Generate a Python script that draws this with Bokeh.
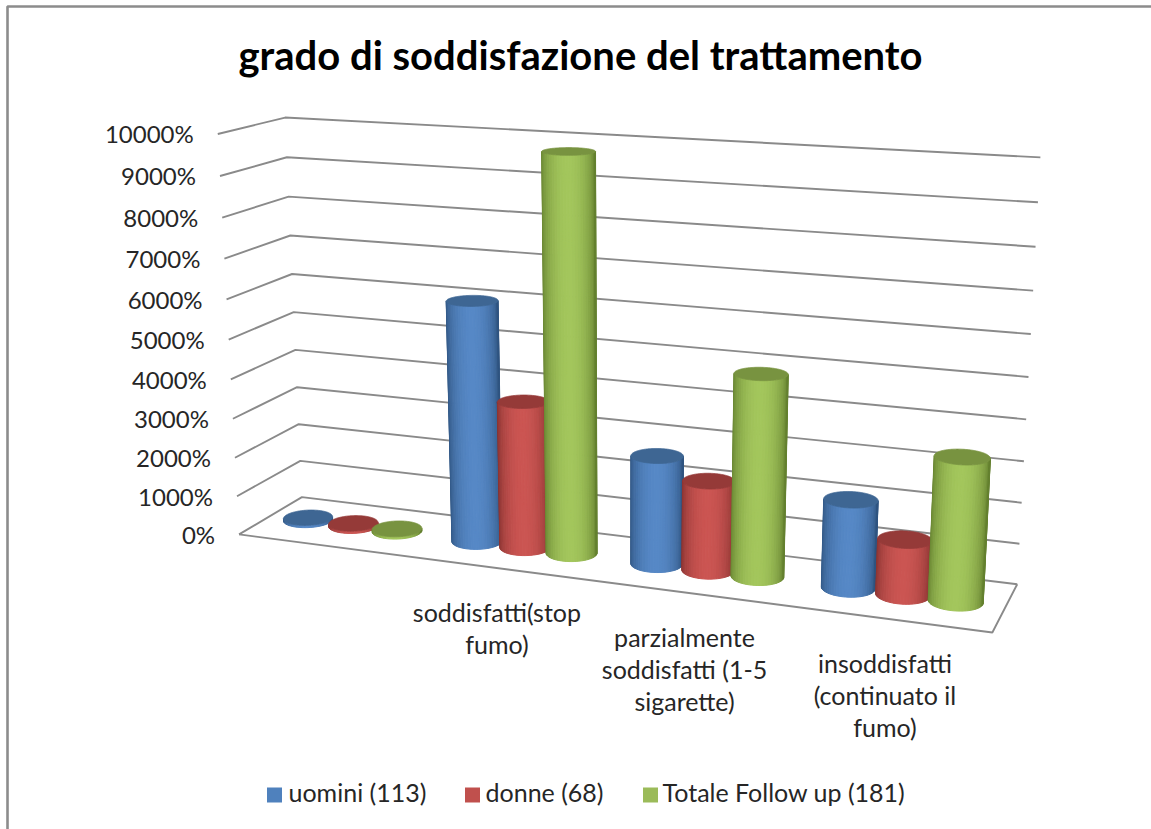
import numpy as np
from bokeh.core.properties import value
from bokeh.embed import file_html
from bokeh.models import Range1d
from bokeh.plotting import figure
from bokeh.resources import INLINE

# ---- chart data ----
title_text = "grado di soddisfazione del trattamento"
series_names = ["uomini (113)", "donne (68)", "Totale Follow up (181)"]
categories = ["", "soddisfatti(stop fumo)", "parzialmente soddisfatti (1-5 sigarette)",
              "insoddisfatti (continuato il fumo)"]
category_lines = [[], ["soddisfatti(stop", "fumo)"],
                  ["parzialmente", "soddisfatti (1-5", "sigarette)"],
                  ["insoddisfatti", "(continuato il", "fumo)"]]
uomini = [60, 6080, 2700, 2150]
donne = [60, 3700, 2220, 1340]
totale = [60, 9800, 4930, 3440]
series_values = [uomini, donne, totale]
tick_values = [0, 1000, 2000, 3000, 4000, 5000, 6000, 7000, 8000, 9000, 10000]
tick_labels = ["0%", "1000%", "2000%", "3000%", "4000%", "5000%", "6000%", "7000%",
               "8000%", "9000%", "10000%"]
axis_max = 10000

# ---- styles ----
body_mid = ["#5688c6", "#cb5552", "#a3c65c"]
body_edge = ["#2f5480", "#83302e", "#64802f"]
top_col = ["#3e6693", "#953a38", "#789340"]
swatch_col = ["#4f81bd", "#c0504d", "#9bbb59"]
grid_col = "#8a8a8a"
text_col = "#262626"
FONT = "Lato"

# ---- camera: (along, depth, height) -> page pixel, fitted from the picture's box corners
camera_3d = np.array([
    [0, 0, 0], [0, 1, 0], [1, 0, 0], [1, 1, 0], [0, 0, 1], [0, 1, 1], [1, 1, 1],
    [0, 1, .5], [1, 1, .5], [0, 0, .5], [.125, .5, 0], [.875, .5, 0]], float)
camera_px = np.array([
    [239, 533], [302, 496], [992, 631], [1016, 584], [217, 134], [285, 117], [1040, 157],
    [293, 311], [1028, 376], [228, 339], [352, 527], [903, 595]], float)


def fit_camera(a, b):
    rows = []
    for (u, d, v), (x, y) in zip(a, b / 1000.0):
        rows.append([u, d, v, 1, 0, 0, 0, 0, -x * u, -x * d, -x * v, -x])
        rows.append([0, 0, 0, 0, u, d, v, 1, -y * u, -y * d, -y * v, -y])
    m = np.linalg.svd(np.array(rows))[2][-1].reshape(3, 4)
    return m


CAM = fit_camera(camera_3d, camera_px)


def project(u, d, v):
    u, d, v = np.broadcast_arrays(np.asarray(u, float), np.asarray(d, float), np.asarray(v, float))
    q = np.stack([u, d, v, np.ones_like(u)], axis=0)
    r = CAM @ q.reshape(4, -1)
    return (r[0] / r[2] * 1000).reshape(u.shape), (r[1] / r[2] * 1000).reshape(u.shape)


W, H = 1151, 829
p = figure(width=W, height=H, output_backend="svg", toolbar_location=None,
           x_range=Range1d(0, W), y_range=Range1d(H, 0), min_border=0,
           background_fill_color="white", border_fill_color="white", margin=(0, 0, 0, 0))
p.axis.visible = False
p.grid.visible = False
p.outline_line_color = None

# frame of the original picture
p.line([1151, 7, 7], [6, 6, 829], line_color="#8c8c8c", line_width=2.6)

# walls
for t in tick_values:
    f = t / axis_max
    xs, ys = project([0, 0, 1], [0, 1, 1], [f, f, f])
    p.line(xs, ys, line_color=grid_col, line_width=1.9)
xs, ys = project([0, 1, 1], [0, 0, 1], [0, 0, 0])
p.line(xs, ys, line_color=grid_col, line_width=1.9)

# tick labels
xs, ys = project(np.zeros(len(tick_values)), np.zeros(len(tick_values)), np.array(tick_values) / axis_max)
p.text(xs - 24, ys, text=tick_labels, text_font=value(FONT), text_font_size="24px",
       text_color=text_col, text_align="right", text_baseline="middle")

# cylinders
N_CAT = len(categories)
N_SER = len(series_names)
SER_OFFSET = [-0.0685, 0.0, 0.065]
R_U = 0.033
R_D = 0.19


def mix(c1, c2, f):
    a = np.array([int(c1[i:i + 2], 16) for i in (1, 3, 5)], float)
    b = np.array([int(c2[i:i + 2], 16) for i in (1, 3, 5)], float)
    c = a + (b - a) * f
    return "#%02x%02x%02x" % tuple(int(round(x)) for x in c)


for s in range(N_SER):
    for c in range(N_CAT):
        uc = (c + 0.5) / N_CAT + SER_OFFSET[s]
        top = series_values[s][c] / axis_max
        th = np.linspace(0, 2 * np.pi, 241)[:-1]
        bx, by = project(uc + R_U * np.cos(th), 0.5 + R_D * np.sin(th), 0 * th)
        il, ir = int(np.argmin(bx)), int(np.argmax(bx))
        tl, tr = th[il], th[ir]
        if tr < tl:
            tr += 2 * np.pi
        arc = np.linspace(tl, tr, 29)
        if np.sin(arc[len(arc) // 2]) > 0:
            arc = np.linspace(tl, tr - 2 * np.pi, 29)
        xs_, ys_, cols = [], [], []
        ax0, _ = project(uc + R_U * np.cos(arc), 0.5 + R_D * np.sin(arc), 0 * arc)
        for k in range(len(arc) - 1):
            a0, a1 = arc[k], arc[k + 1]
            uu = uc + R_U * np.cos([a0, a1, a1, a0])
            dd = 0.5 + R_D * np.sin([a0, a1, a1, a0])
            vv = np.array([0, 0, top, top])
            qx, qy = project(uu, dd, vv)
            xs_.append(list(qx))
            ys_.append(list(qy))
            sx = ((ax0[k] + ax0[k + 1]) / 2 - ax0[0]) / (ax0[-1] - ax0[0])
            f = np.clip(np.sin(np.pi * min(sx * 1.02, 1.0)), 0, 1) ** 0.55
            cols.append(mix(body_edge[s], body_mid[s], f))
        p.patches(xs_, ys_, fill_color=cols, line_color=cols, line_width=1.0)
        tx, ty = project(uc + R_U * np.cos(th), 0.5 + R_D * np.sin(th), top + 0 * th)
        p.patch(tx, ty, fill_color=top_col[s], line_color=top_col[s], line_width=0.8)

# category labels
LINE_H = 32
for c, lines in enumerate(category_lines):
    if not lines:
        continue
    fx, fy = project((c + 0.5) / N_CAT, 0.0, 0.0)
    xs = [float(fx) - 2] * len(lines)
    ys = [float(fy) + 44 + i * LINE_H for i in range(len(lines))]
    p.text(xs, ys, text=lines, text_font=value(FONT), text_font_size="25px",
           text_color=text_col, text_align="center", text_baseline="middle")

# title
p.text([580], [54], text=[title_text], text_font=value(FONT), text_font_style="bold",
       text_font_size="40px", text_color="#000000", text_align="center", text_baseline="middle")

# legend
sw_x = [274, 472, 650]
tx_x = [288, 485, 662]
p.rect(sw_x, [794.5] * 3, width=15, height=15, fill_color=swatch_col, line_color=None)
p.text(tx_x, [791] * 3, text=series_names, text_font=value(FONT), text_font_size="25px",
       text_color=text_col, text_align="left", text_baseline="middle")

open("out.html", "w").write(file_html(p, INLINE))
